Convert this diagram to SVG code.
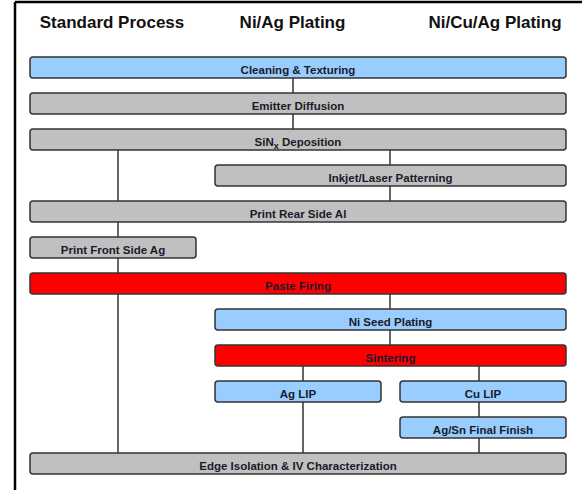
<svg xmlns="http://www.w3.org/2000/svg" width="582" height="490" viewBox="0 0 582 490">
<style>
.hdr{font-family:"Liberation Sans",Arial,sans-serif;font-weight:bold;font-size:17px;fill:#111;text-anchor:middle}
.lbl{font-family:"Liberation Sans",Arial,sans-serif;font-weight:bold;font-size:11.5px;fill:#1a1a2a;text-anchor:middle}
.box{stroke:#333;stroke-width:1.5}
.blue{fill:#99ccff}
.gray{fill:#c0c0c0}
.red{fill:#ff0000}
.conn line{stroke:#333;stroke-width:1.5}
</style>
<rect width="582" height="490" fill="#fff"/>
<g id="frame"><line x1="15" y1="2" x2="582" y2="2" stroke="#000" stroke-width="2.5"/><line x1="15" y1="2" x2="15" y2="490" stroke="#000" stroke-width="2.5"/></g>
<g id="headers">
<text class="hdr" x="112" y="28">Standard Process</text>
<text class="hdr" x="292.5" y="28">Ni/Ag Plating</text>
<text class="hdr" x="495" y="28">Ni/Cu/Ag Plating</text>
</g>
<g class="conn" id="connectors">
<line x1="293" y1="78" x2="293" y2="93"/>
<line x1="293" y1="114" x2="293" y2="129"/>
<line x1="118" y1="150" x2="118" y2="453"/>
<line x1="390" y1="150" x2="390" y2="165"/>
<line x1="390" y1="186" x2="390" y2="201"/>
<line x1="390" y1="294" x2="390" y2="309"/>
<line x1="390" y1="330" x2="390" y2="345"/>
<line x1="303" y1="366" x2="303" y2="381"/>
<line x1="303" y1="402" x2="303" y2="453"/>
<line x1="479" y1="366" x2="479" y2="381"/>
<line x1="479" y1="402" x2="479" y2="417"/>
<line x1="479" y1="438" x2="479" y2="453"/>
</g>
<g id="cleaning"><rect class="box blue" x="30" y="57" width="536" height="21" rx="3"/><text class="lbl" x="298" y="73.5">Cleaning &amp; Texturing</text></g>
<g id="emitter"><rect class="box gray" x="30" y="93" width="536" height="21" rx="3"/><text class="lbl" x="298" y="109.5">Emitter Diffusion</text></g>
<g id="sinx"><rect class="box gray" x="30" y="129" width="536" height="21" rx="3"/><text class="lbl" x="298" y="145.5">SiN<tspan font-size="9" dy="3">x</tspan><tspan dy="-3"> Deposition</tspan></text></g>
<g id="inkjet"><rect class="box gray" x="215" y="165" width="351" height="21" rx="3"/><text class="lbl" x="390.5" y="181.5">Inkjet/Laser Patterning</text></g>
<g id="rear"><rect class="box gray" x="30" y="201" width="536" height="21" rx="3"/><text class="lbl" x="298" y="217.5">Print Rear Side Al</text></g>
<g id="front"><rect class="box gray" x="30" y="237" width="166" height="21" rx="3"/><text class="lbl" x="113" y="253.5">Print Front Side Ag</text></g>
<g id="paste"><rect class="box red" x="30" y="273" width="536" height="21" rx="3"/><text class="lbl" x="298" y="289.5">Paste Firing</text></g>
<g id="niseed"><rect class="box blue" x="215" y="309" width="351" height="21" rx="3"/><text class="lbl" x="390.5" y="325.5">Ni Seed Plating</text></g>
<g id="sintering"><rect class="box red" x="215" y="345" width="351" height="21" rx="3"/><text class="lbl" x="390.5" y="361.5">Sintering</text></g>
<g id="aglip"><rect class="box blue" x="215" y="381" width="166" height="21" rx="3"/><text class="lbl" x="298" y="397.5">Ag LIP</text></g>
<g id="culip"><rect class="box blue" x="400" y="381" width="166" height="21" rx="3"/><text class="lbl" x="483" y="397.5">Cu LIP</text></g>
<g id="agsn"><rect class="box blue" x="400" y="417" width="166" height="21" rx="3"/><text class="lbl" x="483" y="433.5">Ag/Sn Final Finish</text></g>
<g id="edge"><rect class="box gray" x="30" y="453" width="536" height="21" rx="3"/><text class="lbl" x="298" y="469.5">Edge Isolation &amp; IV Characterization</text></g>
</svg>
